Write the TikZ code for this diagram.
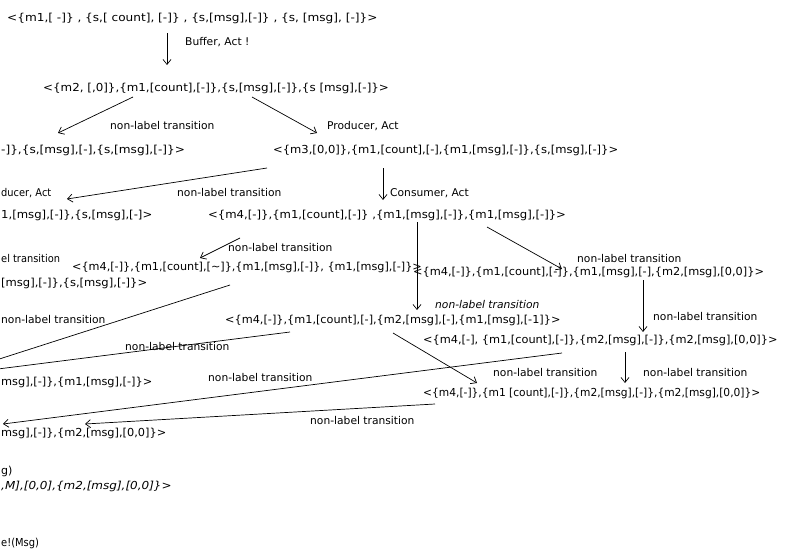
\documentclass[tikz,border=0pt]{standalone}
\usepackage{fontspec}
\usepackage{graphicx}
\setmainfont{DejaVu Sans}
\usetikzlibrary{arrows.meta}
\newcommand\hsx[2]{\scalebox{#1}[1]{#2}}
\begin{document}
\begin{tikzpicture}[x=1pt,y=-1pt,
  st/.style={inner sep=0pt, anchor=west, font=\fontsize{11}{13}\selectfont},
  lab/.style={inner sep=0pt, anchor=west, font=\fontsize{10.7}{12}\selectfont},
  conn/.style={draw, line width=0.7pt, -{Straight Barb[length=5pt,width=8pt]}},
  plain/.style={draw, line width=0.7pt}]
\useasboundingbox (0,0) rectangle (785,549);
\clip (0,0) rectangle (785,549);
\fill[white] (0,0) rectangle (785,549);
% states
\node[st] (t1) at (7,18) {\hsx{1.10}{<\{m1,[ -]\} , \{s,[ count], [-]\} , \{s,[msg],[-]\} , \{s, [msg], [-]\}>}};
\node[st] (t2) at (43,88) {\hsx{1.08}{<\{m2, [,0]\},\{m1,[count],[-]\},\{s,[msg],[-]\},\{s [msg],[-]\}>}};
\node[st] (t3) at (1,150) {\hsx{1.10}{-]\},\{s,[msg],[-],\{s,[msg],[-]\}>}};
\node[st] (t4) at (273,150) {\hsx{1.05}{<\{m3,[0,0]\},\{m1,[count],[-],\{m1,[msg],[-]\},\{s,[msg],[-]\}>}};
\node[st] (t5) at (1,215) {\hsx{1.06}{1,[msg],[-]\},\{s,[msg],[-]>}};
\node[st] (t6) at (208,215) {\hsx{1.06}{<\{m4,[-]\},\{m1,[count],[-]\} ,\{m1,[msg],[-]\},\{m1,[msg],[-]\}>}};
\node[st] (t7) at (72,267) {\hsx{1.02}{<\{m4,[-]\},\{m1,[count],[\textasciitilde]\},\{m1,[msg],[-]\}, \{m1,[msg],[-]\}>}};
\node[st] (t7b) at (1,283) {\hsx{1.05}{[msg],[-]\},\{s,[msg],[-]\}>}};
\node[st] (t8) at (413,272) {\hsx{1.03}{<\{m4,[-]\},\{m1,[count],[-]\},\{m1,[msg],[-],\{m2,[msg],[0,0]\}>}};
\node[st] (t10) at (225,320) {\hsx{1.025}{<\{m4,[-]\},\{m1,[count],[-],\{m2,[msg],[-],\{m1,[msg],[-1]\}>}};
\node[st] (t11) at (423,340) {\hsx{1.03}{<\{m4,[-], \{m1,[count],[-]\},\{m2,[msg],[-]\},\{m2,[msg],[0,0]\}>}};
\node[st] (t12) at (423,393) {\hsx{0.97}{<\{m4,[-]\},\{m1 [count],[-]\},\{m2,[msg],[-]\},\{m2,[msg],[0,0]\}>}};
\node[st] (t9) at (1,382) {\hsx{1.03}{msg],[-]\},\{m1,[msg],[-]\}>}};
\node[st] (t13) at (1,433) {\hsx{1.03}{msg],[-]\},\{m2,[msg],[0,0]\}>}};
\node[st] (t14) at (1,471) {g)};
\node[st,font=\fontsize{11}{13}\selectfont\itshape] (t15) at (1,486) {\hsx{1.09}{,M],[0,0],\{m2,[msg],[0,0]\}>}};
\node[st] (t16) at (1,543) {\hsx{0.9}{e!(Msg)}};
% coordinates
\coordinate (a1s) at (167,33); \coordinate (a1e) at (167,65);
\coordinate (a2s) at (133,97); \coordinate (a2e) at (58,133);
\coordinate (a3s) at (252,97); \coordinate (a3e) at (317,133);
\coordinate (a4s) at (267,168); \coordinate (a4e) at (67,199);
\coordinate (a5s) at (383,168); \coordinate (a5e) at (383,200);
\coordinate (a6s) at (240,238); \coordinate (a6e) at (200,258);
\coordinate (a7s) at (417,222); \coordinate (a7e) at (417,310);
\coordinate (a8s) at (487,227); \coordinate (a8e) at (562,269);
\coordinate (a9s) at (643,280); \coordinate (a9e) at (643,332);
\coordinate (l1s) at (230,285); \coordinate (l1e) at (-10,362);
\coordinate (l2s) at (290,332); \coordinate (l2e) at (-10,370);
\coordinate (a10s) at (393,333); \coordinate (a10e) at (477,383);
\coordinate (a11s) at (625,352); \coordinate (a11e) at (625,383);
\coordinate (a12s) at (562,353); \coordinate (a12e) at (3,424);
\coordinate (a13s) at (435,404); \coordinate (a13e) at (85,424);
% connectors
\draw[conn] (a1s) -- (a1e);
\draw[conn] (a2s) -- (a2e);
\draw[conn] (a3s) -- (a3e);
\draw[conn] (a4s) -- (a4e);
\draw[conn] (a5s) -- (a5e);
\draw[conn] (a6s) -- (a6e);
\draw[conn] (a7s) -- (a7e);
\draw[conn] (a8s) -- (a8e);
\draw[conn] (a9s) -- (a9e);
\draw[conn] (l1s) -- (l1e);
\draw[conn] (l2s) -- (l2e);
\draw[conn] (a10s) -- (a10e);
\draw[conn] (a11s) -- (a11e);
\draw[conn] (a12s) -- (a12e);
\draw[conn] (a13s) -- (a13e);
% labels
\node[lab] (b1) at (185,42) {Buffer, Act !};
\node[lab] (b2) at (110,126) {non-label transition};
\node[lab] (b3) at (327,126) {Producer, Act};
\node[lab] (b4) at (177,193) {non-label transition};
\node[lab] (b5) at (1,193) {\hsx{0.92}{ducer, Act}};
\node[lab] (b6) at (390,193) {Consumer, Act};
\node[lab] (b7) at (228,248) {non-label transition};
\node[lab] (b8) at (1,259) {\hsx{0.92}{el transition}};
\node[lab,font=\fontsize{10.7}{12}\selectfont\itshape] (b9) at (435,305) {non-label transition};
\node[lab] (b10) at (577,259) {non-label transition};
\node[lab] (b11) at (653,317) {non-label transition};
\node[lab] (b12) at (1,320) {non-label transition};
\node[lab] (b13) at (125,347) {non-label transition};
\node[lab] (b14) at (493,373) {non-label transition};
\node[lab] (b15) at (643,373) {non-label transition};
\node[lab] (b16) at (208,378) {non-label transition};
\node[lab] (b17) at (310,421) {non-label transition};
\end{tikzpicture}
\end{document}
